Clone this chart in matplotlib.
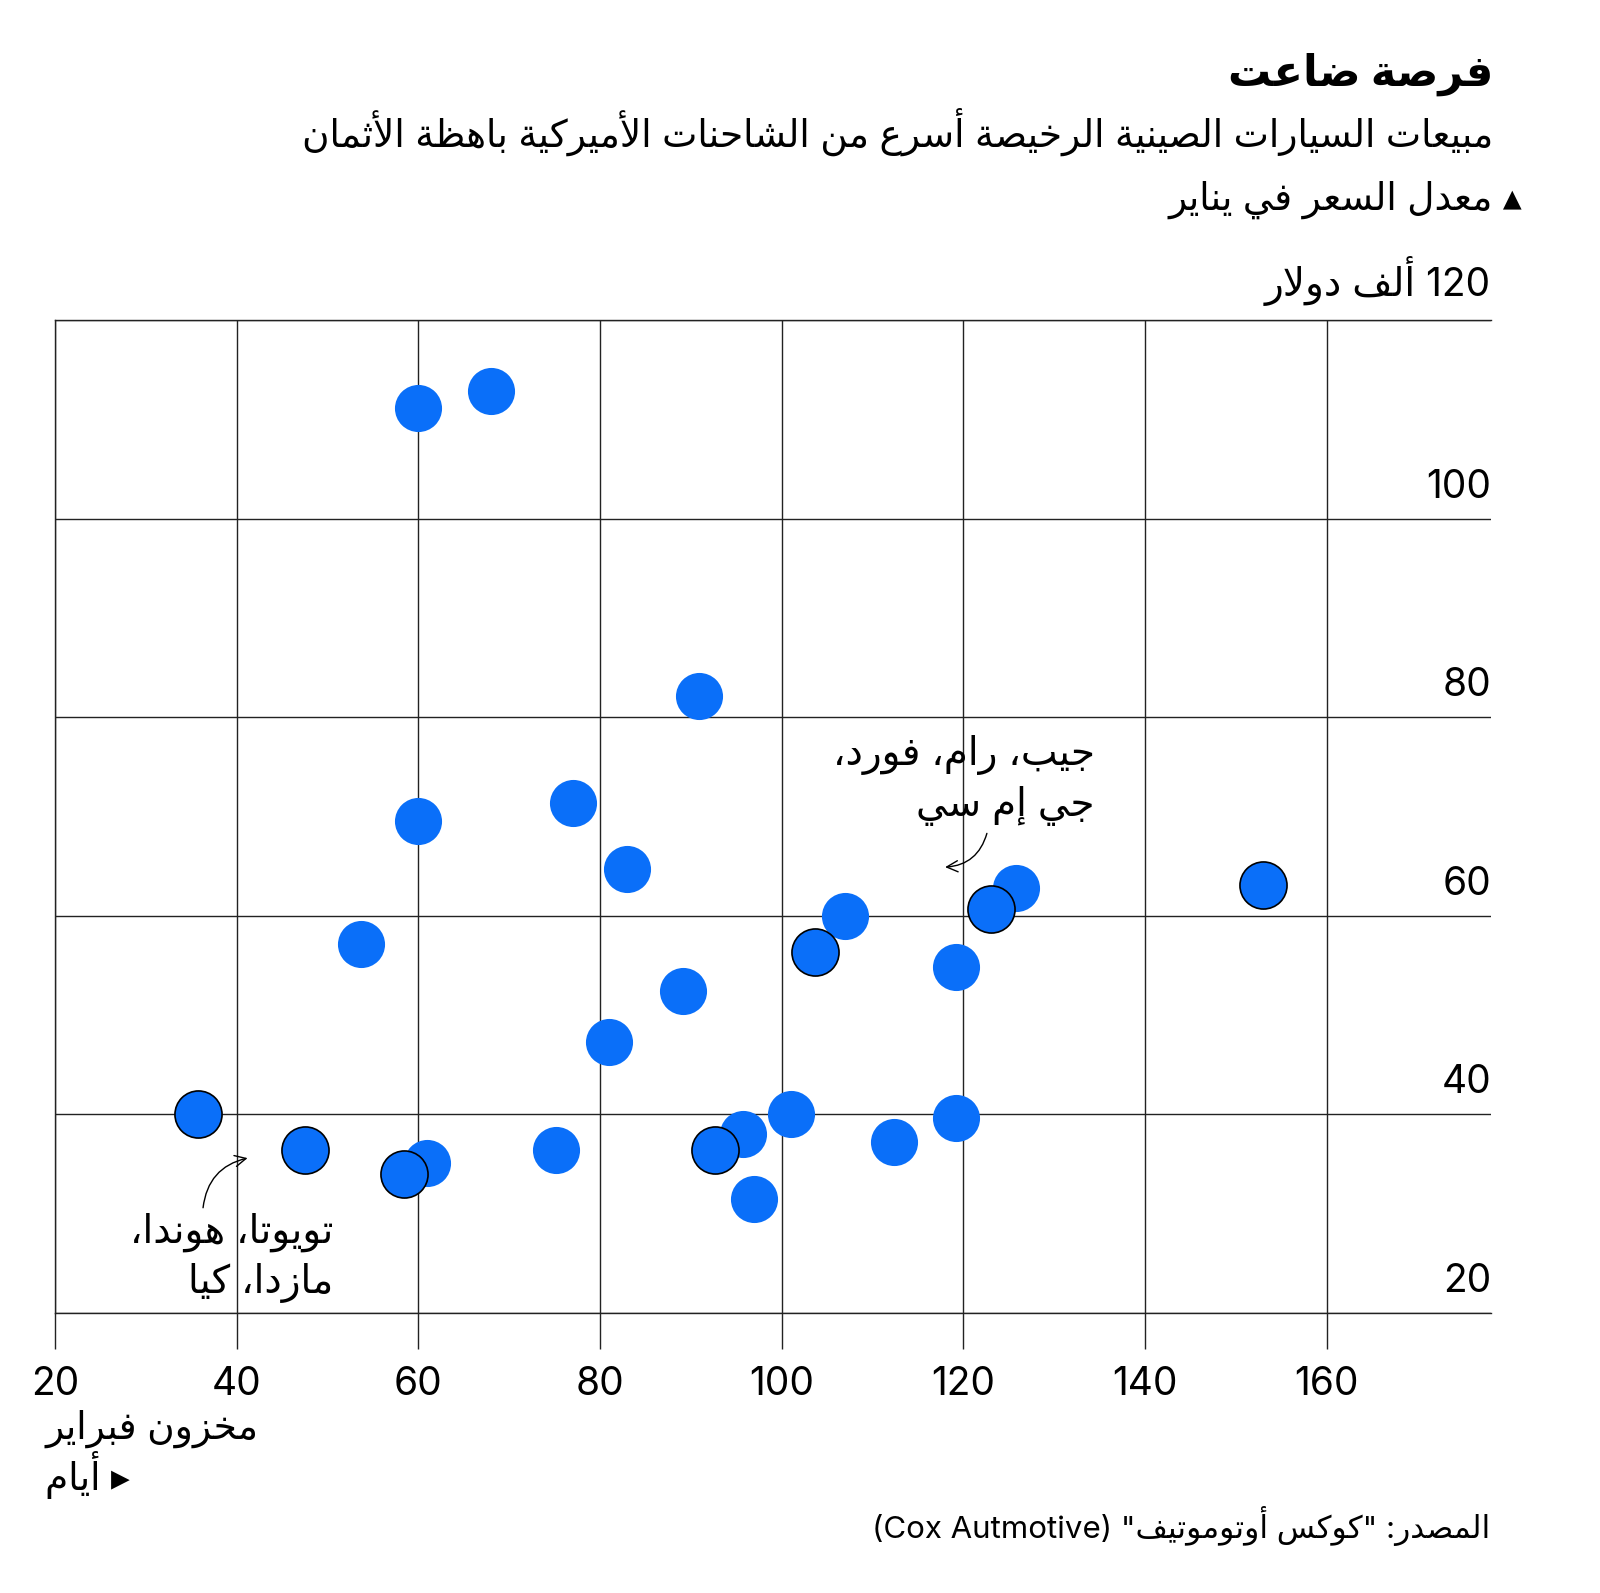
import matplotlib
matplotlib.use('Agg')
import matplotlib.pyplot as plt
from matplotlib.transforms import offset_copy

# --- minimal Arabic shaping (presentation forms) + visual reordering ---
_ranges = [('آ', 0xFE81, 2), ('أ', 0xFE83, 2), ('ؤ', 0xFE85, 2), ('إ', 0xFE87, 2),
           ('ئ', 0xFE89, 4), ('ا', 0xFE8D, 2), ('ب', 0xFE8F, 4), ('ة', 0xFE93, 2),
           ('ت', 0xFE95, 4), ('ث', 0xFE99, 4), ('ج', 0xFE9D, 4), ('ح', 0xFEA1, 4),
           ('خ', 0xFEA5, 4), ('د', 0xFEA9, 2), ('ذ', 0xFEAB, 2), ('ر', 0xFEAD, 2),
           ('ز', 0xFEAF, 2), ('س', 0xFEB1, 4), ('ش', 0xFEB5, 4), ('ص', 0xFEB9, 4),
           ('ض', 0xFEBD, 4), ('ط', 0xFEC1, 4), ('ظ', 0xFEC5, 4), ('ع', 0xFEC9, 4),
           ('غ', 0xFECD, 4), ('ف', 0xFED1, 4), ('ق', 0xFED5, 4), ('ك', 0xFED9, 4),
           ('ل', 0xFEDD, 4), ('م', 0xFEE1, 4), ('ن', 0xFEE5, 4), ('ه', 0xFEE9, 4),
           ('و', 0xFEED, 2), ('ى', 0xFEEF, 2), ('ي', 0xFEF1, 4)]
FORMS = {c: tuple(range(s, s + n)) for c, s, n in _ranges}
LAM_ALEF = {'آ': 0xFEF5, 'أ': 0xFEF7, 'إ': 0xFEF9, 'ا': 0xFEFB}


def shape(s):
    out = []
    i = 0
    while i < len(s):
        c = s[i]
        if c not in FORMS:
            out.append(c)
            i += 1
            continue
        prev = s[i - 1] if i > 0 else ''
        pj = prev in FORMS and len(FORMS[prev]) == 4
        if c == 'ل' and i + 1 < len(s) and s[i + 1] in LAM_ALEF:
            out.append(chr(LAM_ALEF[s[i + 1]] + (1 if pj else 0)))
            i += 2
            continue
        nj = i + 1 < len(s) and s[i + 1] in FORMS
        f = FORMS[c]
        if len(f) == 4:
            g = f[3] if (pj and nj) else f[1] if pj else f[2] if nj else f[0]
        else:
            g = f[1] if pj else f[0]
        out.append(chr(g))
        i += 1
    return ''.join(out)


def ar(s):
    return shape(s)[::-1]


# --- data ---
days = [60, 68, 90.9, 60, 77, 83, 53.7, 89.1, 81, 61, 75.2, 95.8, 97.0, 101.0,
        112.4, 119.2, 107, 119.2, 125.8]
price = [111.1, 112.9, 82.1, 69.5, 71.4, 64.7, 57.2, 52.4, 47.3, 35.1, 36.4, 38.0,
         31.5, 40.0, 37.2, 39.6, 60.0, 54.8, 62.8]
days_hl = [35.7, 47.5, 58.4, 92.7, 103.7, 123.0, 153.0]
price_hl = [40.0, 36.4, 34.0, 36.4, 56.4, 60.7, 63.1]

xticks = [20, 40, 60, 80, 100, 120, 140, 160]
yticks = [20, 40, 60, 80, 100, 120]

title = ar("فرصة ضاعت")
subtitle = ar("مبيعات السيارات الصينية الرخيصة أسرع من الشاحنات الأميركية باهظة الأثمان")
ylab = ar("معدل السعر في يناير") + " ▴"
yunit = ar("ألف دولار")
ann_us = [ar("جيب، رام، فورد،"), ar("جي إم سي")]
ann_jp = [ar("تويوتا، هوندا،"), ar("مازدا، كيا")]
xlab = [ar("مخزون فبراير"), ar("أيام") + " ▸"]
source = "(Cox Autmotive) " + ar('المصدر: "كوكس أوتوموتيف"')

BLUE = '#0a6ff9'
FONT = ['Inter', 'DejaVu Sans']
plt.rcParams['font.family'] = FONT

W, H = 1600, 1593
fig = plt.figure(figsize=(W / 100, H / 100), dpi=100, facecolor='white')
ax_l, ax_r, ax_t, ax_b = 55, 1491, 320, 1313
ax = fig.add_axes([ax_l / W, 1 - ax_b / H, (ax_r - ax_l) / W, (ax_b - ax_t) / H])


def ftext(x, y, s, **kw):
    fig.text(x / W, 1 - y / H, s, va='baseline', **kw)


ax.scatter(days, price, s=1150, color=BLUE, linewidths=0, zorder=3)
ax.scatter(days_hl, price_hl, s=1150, color=BLUE, edgecolors='black', linewidths=1.2, zorder=4)

ax.set_xlim(20, 178.1)
ax.set_ylim(20, 120)
ax.set_xticks(xticks)
ax.set_yticks(yticks)
ax.set_yticklabels([])
ax.tick_params(axis='x', length=26, width=1, color='#222222', labelsize=28, pad=12)
ax.tick_params(axis='y', length=0)
ax.grid(True, color='#222222', lw=1)
ax.set_axisbelow(True)
ax.spines['right'].set_visible(False)
for side in ['left', 'top', 'bottom']:
    ax.spines[side].set_color('#222222')
    ax.spines[side].set_linewidth(1)

# y value labels, sitting above each gridline at the right end
lab_tr = offset_copy(ax.get_yaxis_transform(), fig=fig, y=21, units='dots')
for v in yticks[:-1]:
    ax.text(1.0, v, str(v), transform=lab_tr, ha='right', va='baseline', fontsize=28)
top_tr = offset_copy(ax.get_yaxis_transform(), fig=fig, y=24, units='dots')
ax.text(1.0, yticks[-1], yunit + ' ' + str(yticks[-1]), transform=top_tr,
        ha='right', va='baseline', fontsize=28)

# annotations
for line, yb in zip(ann_us, [75.2, 70.1]):
    ax.text(134.5, yb, line, ha='right', va='baseline', fontsize=28)
for line, yb in zip(ann_jp, [27.05, 22.0]):
    ax.text(50.6, yb, line, ha='right', va='baseline', fontsize=28)
ax.annotate('', xy=(118.0, 64.9), xytext=(122.6, 68.3),
            arrowprops=dict(arrowstyle='->', connectionstyle='arc3,rad=-0.35',
                            lw=1, color='black', mutation_scale=20, shrinkA=0, shrinkB=0))
ax.annotate('', xy=(41.2, 35.6), xytext=(36.3, 30.6),
            arrowprops=dict(arrowstyle='->', connectionstyle='arc3,rad=-0.35',
                            lw=1, color='black', mutation_scale=20, shrinkA=0, shrinkB=0))

# header
ftext(1493, 86, title, ha='right', fontsize=31, fontweight='bold')
ftext(1493, 147, subtitle, ha='right', fontsize=27)
ftext(1522, 210, ylab, ha='right', fontsize=27)

# x axis label and source
ftext(45, 1439, xlab[0], ha='left', fontsize=27)
ftext(45, 1490, xlab[1], ha='left', fontsize=27)
ftext(1490, 1538, source, ha='right', fontsize=22.5)

fig.savefig('out.png', dpi=100, facecolor='white')
